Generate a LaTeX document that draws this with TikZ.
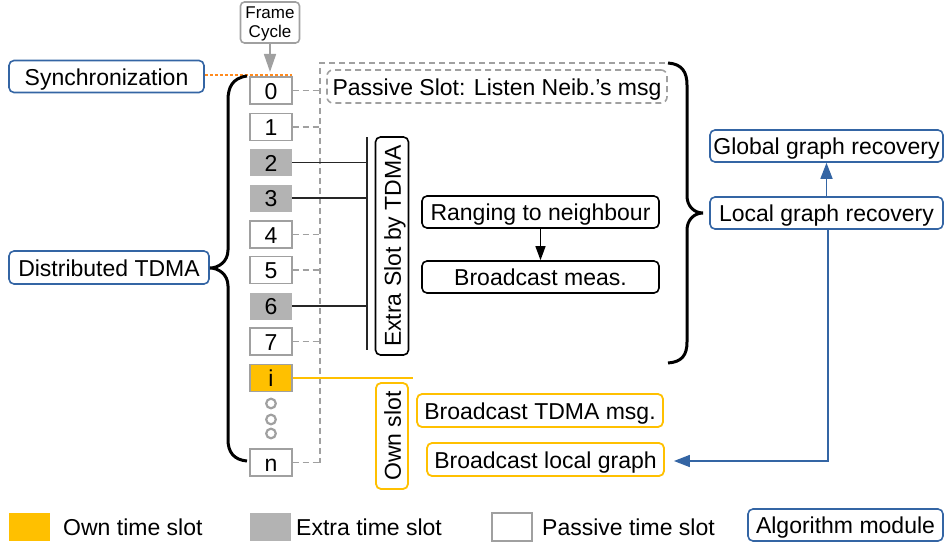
\documentclass[tikz,border=0pt]{standalone}
\usepackage{fontspec}
\setmainfont{Liberation Sans}
\usetikzlibrary{arrows.meta}
\definecolor{modblue}{HTML}{3465A4}
\definecolor{ownyel}{HTML}{FFC000}
\definecolor{extragray}{HTML}{B3B3B3}
\definecolor{passgray}{HTML}{A0A0A0}
\definecolor{syncorange}{HTML}{FF8A1E}
\tikzset{
  txt/.style={font=\fontsize{23}{27}\selectfont, text height=19.5pt, text depth=2pt},
  module/.style={txt, draw=modblue, line width=1.6pt, rounded corners=5pt, inner sep=0pt},
  procbox/.style={txt, draw=black, line width=1.6pt, rounded corners=5pt, inner sep=0pt},
  ownbox/.style={txt, draw=ownyel, line width=1.8pt, rounded corners=5pt, inner sep=0pt},
  slotbox/.style={txt, minimum width=42pt, minimum height=27pt, inner sep=0pt},
  passslot/.style={slotbox, draw=passgray, fill=white, line width=1.3pt},
  extraslot/.style={slotbox, fill=extragray},
  ownslot/.style={slotbox, fill=ownyel, draw=passgray, line width=1.3pt},
  passline/.style={draw=passgray, line width=1.3pt, dash pattern=on 6pt off 4pt},
  extraline/.style={draw=black!85, line width=1.3pt},
  brace/.style={draw=black, line width=3pt},
  dotring/.style={draw=passgray, line width=2.2pt},
}
\begin{document}
\begin{tikzpicture}[x=1pt,y=-1pt]
\useasboundingbox (0,0) rectangle (945,543);

% algorithm modules
\node[module, minimum width=195pt, minimum height=32pt] (sync) at (106.5,76.5) {Synchronization};
\node[module, minimum width=200pt, minimum height=33pt] (dtdma) at (109,267.5) {Distributed TDMA};
\node[module, minimum width=233pt, minimum height=32pt] (global) at (826.5,146) {Global graph recovery};
\node[module, minimum width=233pt, minimum height=32pt] (local) at (826.5,213) {Local graph recovery};

% frame cycle label
\node[draw=passgray, line width=1.6pt, rounded corners=4pt, minimum width=59pt, minimum height=41pt,
      inner sep=0pt] (frame) at (270,22.5) {};
\node[align=center, inner sep=0pt, font=\fontsize{17}{19}\selectfont] (frametxt) at (270,24.2) {Frame\\Cycle};

% time slots
\node[passslot]  (s0) at (271,90.5)  {0};
\node[passslot]  (s1) at (271,127)   {1};
\node[extraslot] (s2) at (271,162.5) {2};
\node[extraslot] (s3) at (271,198)   {3};
\node[passslot]  (s4) at (271,234.5) {4};
\node[passslot]  (s5) at (271,270)   {5};
\node[extraslot] (s6) at (271,306)   {6};
\node[passslot]  (s7) at (271,341.5) {7};
\node[ownslot]   (si) at (271,378)   {i};
\node[passslot]  (sn) at (271,462.5) {n};

% ellipsis between slot i and slot n
\draw[dotring] (271,403.5) circle (4.8pt);
\draw[dotring] (271,419.5) circle (4.8pt);
\draw[dotring] (271,433.5) circle (4.8pt);

% frame cycle arrow and synchronization marker
\draw[draw=passgray, line width=1.6pt, -{Triangle[width=12pt,length=18pt]}] (frame.south) -- (270,72);
\coordinate (syncend) at (292,75);
\draw[syncorange, line width=2pt, dash pattern=on 3pt off 2pt] (sync.east |- syncend) -- (syncend);

% passive slots
\node[txt, draw=passgray, line width=1.6pt, dash pattern=on 6pt off 4pt, rounded corners=6pt,
      minimum width=340pt, minimum height=33pt, inner sep=0pt] (passive) at (497,86.5) {Passive Slot: Listen Neib.'s msg};
\coordinate (ptop) at (320,63);
\coordinate (pend) at (665,63);
\draw[passline] (pend) -- (ptop) -- (ptop |- sn);
\foreach \s in {s0,s1,s4,s5,s7,sn} \draw[passline] (\s.east) -- (ptop |- \s);

% extra slots
\node[procbox, rotate=90, minimum width=218pt, minimum height=33pt] (extra) at (392,246) {Extra Slot by TDMA};
\coordinate (etop) at (367,137);
\coordinate (ebot) at (367,350);
\draw[extraline] (etop) -- (ebot);
\foreach \s in {s2,s3,s6} \draw[extraline] (\s.east) -- (etop |- \s);

\node[procbox, minimum width=237pt, minimum height=32pt] (ranging) at (540.5,212) {Ranging to neighbour};
\node[procbox, minimum width=237pt, minimum height=32pt] (meas) at (540.5,277) {Broadcast meas.};
\draw[black, line width=1.3pt, -{Triangle[width=10pt,length=14pt]}] (ranging) -- (meas);

% own slot
\node[ownbox, rotate=90, minimum width=106pt, minimum height=32pt] (own) at (392,436) {Own slot};
\coordinate (ownend) at (413,378);
\draw[ownyel, line width=1.3pt] (si.east) -- (ownend);
\node[ownbox, minimum width=246pt, minimum height=33pt] (btdma) at (540,410.5) {Broadcast TDMA msg.};
\node[ownbox, minimum width=237pt, minimum height=33pt] (blocal) at (545.5,459.5) {Broadcast local graph};

% braces
\draw[brace] (247,76) .. controls (232,78) and (228,88) .. (228,100) -- (228,250)
  .. controls (228,262) and (218,268) .. (210,268)
  .. controls (218,268) and (228,274) .. (228,286) -- (228,440)
  .. controls (228,452) and (234,460) .. (247,461);
\draw[brace] (668,63) .. controls (682,64) and (687,72) .. (687,85) -- (687,196)
  .. controls (687,206) and (694,213) .. (703,213)
  .. controls (694,213) and (687,220) .. (687,230) -- (687,342)
  .. controls (687,355) and (682,362) .. (668,363);

% graph recovery flow
\draw[modblue, line width=1.6pt, -{Triangle[width=12pt,length=16pt]}] (local) -- (global);
\coordinate (turn) at (828,461);
\draw[modblue, line width=1.6pt, -{Triangle[width=12pt,length=16pt]}] (local.south -| turn) -- (turn) -- ([xshift=9pt]blocal.east |- turn);

% legend
\node[fill=ownyel, minimum width=41pt, minimum height=28pt, inner sep=0pt] (lown) at (29.5,527) {};
\node[txt, anchor=west, inner sep=0pt] (lowntxt) at (63,527) {Own time slot};
\node[fill=extragray, minimum width=41pt, minimum height=28pt, inner sep=0pt] (lextra) at (270.5,527) {};
\node[txt, anchor=west, inner sep=0pt] (lextratxt) at (296,527) {Extra time slot};
\node[draw=passgray, line width=1.3pt, fill=white, minimum width=40pt, minimum height=28pt, inner sep=0pt] (lpass) at (512,527) {};
\node[txt, anchor=west, inner sep=0pt] (lpasstxt) at (542,527) {Passive time slot};
\node[module, minimum width=195pt, minimum height=32pt] (lmod) at (845.5,525) {Algorithm module};
\end{tikzpicture}
\end{document}
